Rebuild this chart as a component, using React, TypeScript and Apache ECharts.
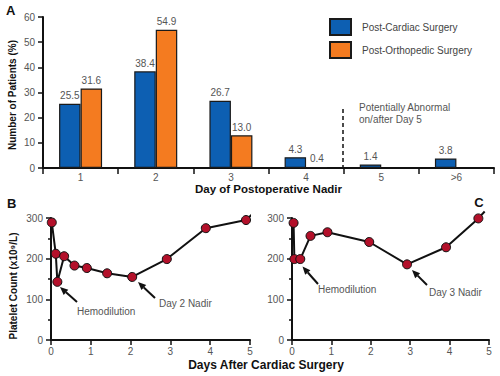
import React, { useEffect, useRef } from "react";
import * as echarts from "echarts";

const dayCategories = ["1", "2", "3", "4", "5", ">6"];
const cardiacPct = [25.5, 38.4, 26.7, 4.3, 1.4, 3.8];
const orthoPct: (number | string)[] = [31.6, 54.9, 13.0, 0.4, "-", "-"];

const bDays = [0.02, 0.12, 0.16, 0.33, 0.59, 0.9, 1.41, 2.04, 2.91, 3.89, 4.9];
const bCounts = [289, 212, 143, 206, 183, 177, 164, 155, 199, 275, 295];
const bTail = [5.05, 309];

const cDays = [0.04, 0.06, 0.21, 0.47, 0.9, 1.96, 2.92, 3.91, 4.73];
const cCounts = [288, 199, 199, 256, 265, 241, 186, 228, 299];
const cTail = [4.89, 316];

const FONT = "Liberation Sans, Arial, Helvetica, sans-serif";
const BLUE = "#0d5fb2";
const ORANGE = "#f47b20";
const LABEL_GRAY = "#555";
const INK = "#111";

function arrow(tail: [number, number], tip: [number, number]) {
  const dx = tip[0] - tail[0];
  const dy = tip[1] - tail[1];
  const len = Math.sqrt(dx * dx + dy * dy);
  const ux = dx / len;
  const uy = dy / len;
  const headLen = 8;
  const headW = 3.5;
  const bx = tip[0] - ux * headLen;
  const by = tip[1] - uy * headLen;
  return [
    {
      type: "line",
      shape: { x1: tail[0], y1: tail[1], x2: bx, y2: by },
      style: { stroke: INK, lineWidth: 2 },
    },
    {
      type: "polygon",
      shape: {
        points: [
          [tip[0], tip[1]],
          [bx - uy * headW, by + ux * headW],
          [bx + uy * headW, by - ux * headW],
        ],
      },
      style: { fill: INK },
    },
  ];
}

function annot(text: string, x: number, y: number) {
  return {
    type: "text",
    x,
    y,
    style: {
      text,
      fill: LABEL_GRAY,
      font: `10px ${FONT}`,
      textAlign: "left",
      textVerticalAlign: "middle",
    },
  };
}

export default function App() {
  const ref = useRef<HTMLDivElement>(null);
  useEffect(() => {
    if (!ref.current) return;
    const chart = echarts.init(ref.current, undefined, { renderer: "svg" });

    const axisLine = { show: true, lineStyle: { color: INK, width: 2 } };
    const axisTick = { show: true, length: 5, lineStyle: { color: INK, width: 1.5 } };
    const axisLabel = { color: LABEL_GRAY, fontSize: 10, fontFamily: FONT };

    const lineSeriesCommon = {
      type: "line",
      symbol: "circle",
      symbolSize: 9,
      clip: false,
      lineStyle: { color: INK, width: 2 },
      itemStyle: { color: "#b3102a", borderColor: INK, borderWidth: 1 },
      z: 3,
    };

    const withTail = (xs: number[], ys: number[], tail: number[]) => [
      ...xs.map((x, i) => [x, ys[i]]),
      { value: tail, symbol: "none" },
    ];

    const option: any = {
      animation: false,
      backgroundColor: "#fff",
      textStyle: { fontFamily: FONT },
      legend: {
        orient: "vertical",
        left: 329,
        top: 18,
        padding: 0,
        itemWidth: 21,
        itemHeight: 16,
        itemGap: 5,
        icon: "rect",
        selectedMode: false,
        textStyle: { color: "#444", fontSize: 10, fontFamily: FONT, padding: [0, 0, 0, 6] },
        data: ["Post-Cardiac Surgery", "Post-Orthopedic Surgery"],
      },
      grid: [
        { left: 43, top: 17, width: 451, height: 151 },
        { left: 51, top: 218, width: 199, height: 122 },
        { left: 292, top: 218, width: 197, height: 122 },
      ],
      xAxis: [
        {
          gridIndex: 0,
          type: "category",
          data: dayCategories,
          boundaryGap: true,
          axisLine,
          axisTick: { show: true, length: 6, interval: 0, lineStyle: { color: INK, width: 1.5 } },
          axisLabel: { ...axisLabel, margin: 4 },
          name: "Day of Postoperative Nadir",
          nameLocation: "middle",
          nameGap: 13,
          nameTextStyle: { color: INK, fontSize: 11.5, fontWeight: "bold", fontFamily: FONT },
        },
        {
          gridIndex: 1,
          type: "value",
          min: 0,
          max: 5,
          interval: 1,
          splitLine: { show: false },
          axisLine,
          axisTick,
          axisLabel: { ...axisLabel, margin: 6 },
        },
        {
          gridIndex: 2,
          type: "value",
          min: 0,
          max: 5,
          interval: 1,
          splitLine: { show: false },
          axisLine,
          axisTick,
          axisLabel: { ...axisLabel, margin: 6 },
        },
      ],
      yAxis: [
        {
          gridIndex: 0,
          type: "value",
          min: 0,
          max: 60,
          interval: 10,
          splitLine: { show: false },
          axisLine,
          axisTick,
          axisLabel: { ...axisLabel, margin: 8 },
        },
        {
          gridIndex: 1,
          type: "value",
          min: 0,
          max: 300,
          interval: 100,
          splitLine: { show: false },
          axisLine,
          axisTick,
          minorTick: { show: true, splitNumber: 2, length: 3, lineStyle: { color: INK, width: 1.5 } },
          axisLabel: { ...axisLabel, margin: 8 },
        },
        {
          gridIndex: 2,
          type: "value",
          min: 0,
          max: 300,
          interval: 100,
          splitLine: { show: false },
          axisLine,
          axisTick,
          minorTick: { show: true, splitNumber: 2, length: 3, lineStyle: { color: INK, width: 1.5 } },
          axisLabel: { ...axisLabel, margin: 8 },
        },
      ],
      series: [
        {
          name: "Post-Cardiac Surgery",
          type: "bar",
          xAxisIndex: 0,
          yAxisIndex: 0,
          data: cardiacPct,
          barWidth: 21.5,
          barGap: "0%",
          itemStyle: { color: BLUE, borderColor: "#1a1a1a", borderWidth: 1.2 },
          label: {
            show: true,
            position: "top",
            distance: 3,
            color: LABEL_GRAY,
            fontSize: 10,
            fontFamily: FONT,
            formatter: (p: any) => Number(p.value).toFixed(1),
          },
        },
        {
          name: "Post-Orthopedic Surgery",
          type: "bar",
          xAxisIndex: 0,
          yAxisIndex: 0,
          data: orthoPct,
          barWidth: 21.5,
          barGap: "0%",
          itemStyle: { color: ORANGE, borderColor: "#1a1a1a", borderWidth: 1.2 },
          label: {
            show: true,
            position: "top",
            distance: 3,
            color: LABEL_GRAY,
            fontSize: 10,
            fontFamily: FONT,
            formatter: (p: any) => Number(p.value).toFixed(1),
          },
        },
        {
          ...lineSeriesCommon,
          name: "B",
          xAxisIndex: 1,
          yAxisIndex: 1,
          data: withTail(bDays, bCounts, bTail),
        },
        {
          ...lineSeriesCommon,
          name: "C",
          xAxisIndex: 2,
          yAxisIndex: 2,
          data: withTail(cDays, cCounts, cTail),
        },
      ],
      graphic: [
        {
          type: "text",
          x: 6,
          y: 10,
          style: { text: "A", font: `bold 13px ${FONT}`, fill: INK, textVerticalAlign: "middle" },
        },
        {
          type: "text",
          x: 7,
          y: 203,
          style: { text: "B", font: `bold 13px ${FONT}`, fill: INK, textVerticalAlign: "middle" },
        },
        {
          type: "text",
          x: 479,
          y: 202,
          style: {
            text: "C",
            font: `bold 13px ${FONT}`,
            fill: INK,
            textAlign: "center",
            textVerticalAlign: "middle",
          },
        },
        {
          type: "text",
          x: 12,
          y: 95,
          rotation: Math.PI / 2,
          style: {
            text: "Number of Patients (%)",
            font: `bold 10px ${FONT}`,
            fill: INK,
            textAlign: "center",
            textVerticalAlign: "middle",
          },
        },
        {
          type: "text",
          x: 13,
          y: 286,
          rotation: Math.PI / 2,
          style: {
            text: "Platelet Count (x10⁹/L)",
            font: `bold 10px ${FONT}`,
            fill: INK,
            textAlign: "center",
            textVerticalAlign: "middle",
          },
        },
        {
          type: "text",
          x: 266,
          y: 365,
          style: {
            text: "Days After Cardiac Surgery",
            font: `bold 12px ${FONT}`,
            fill: INK,
            textAlign: "center",
            textVerticalAlign: "middle",
          },
        },
        {
          type: "line",
          shape: { x1: 343, y1: 109, x2: 343, y2: 167 },
          style: { stroke: INK, lineWidth: 1.5, lineDash: [4, 3] },
        },
        {
          type: "text",
          x: 359,
          y: 102,
          style: {
            text: "Potentially Abnormal\non/after Day 5",
            font: `10px ${FONT}`,
            fill: LABEL_GRAY,
            lineHeight: 11.5,
            textAlign: "left",
            textVerticalAlign: "top",
          },
        },
        ...arrow([77, 302], [60, 287]),
        annot("Hemodilution", 77, 311),
        ...arrow([155, 298], [138, 282]),
        annot("Day 2 Nadir", 159, 303),
        ...arrow([318, 284], [302.5, 266.5]),
        annot("Hemodilution", 318, 289),
        ...arrow([427, 285], [412, 270]),
        annot("Day 3 Nadir", 429, 292),
      ],
    };

    chart.setOption(option);
    return () => chart.dispose();
  }, []);

  return (
    <div
      ref={ref}
      style={{ position: "fixed", left: 0, top: 0, width: 500, height: 376, background: "#fff" }}
    />
  );
}
